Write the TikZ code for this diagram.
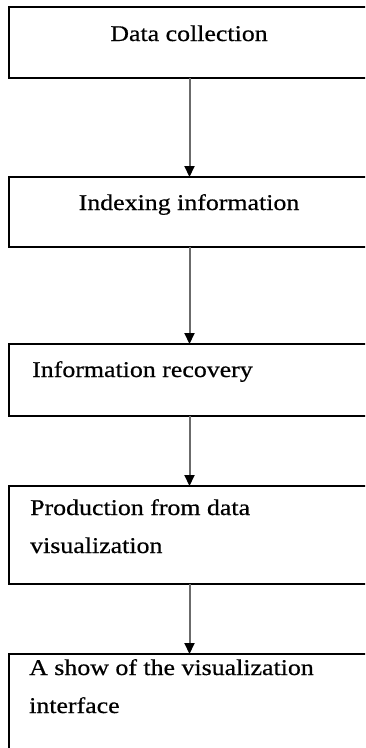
\documentclass[tikz,border=0pt]{standalone}
\usepackage{fontspec}
\setmainfont[FakeStretch=1.15,FakeBold=0.6]{Liberation Serif}
\usetikzlibrary{arrows.meta}
\begin{document}
\begin{tikzpicture}[x=1pt,y=-1pt,
  box/.style={draw=black,line width=2pt,inner sep=0pt,outer sep=0pt,
    minimum width=361pt,anchor=north west},
  lbl/.style={inner sep=0pt,font=\fontsize{22.5}{38}\selectfont},
  arr/.style={draw=black!58,line width=2pt,
    -{Triangle[length=11pt,width=10pt,color=black]}}]
\useasboundingbox (0,0) rectangle (365,748);
\clip (0,0) rectangle (365,748);
\node[box,minimum height=71pt] (b1) at (9,7) {};
\node[box,minimum height=70pt] (b2) at (9,177) {};
\node[box,minimum height=72pt] (b3) at (9,344) {};
\node[box,minimum height=98pt] (b4) at (9,486) {};
\node[box,minimum height=110pt] (b5) at (9,654) {};
\node[lbl,anchor=base] (t1) at (189,41) {Data collection};
\node[lbl,anchor=base] (t2) at (189,210) {Indexing information};
\node[lbl,anchor=base west] (t3) at (32,377) {Information recovery};
\node[lbl,anchor=base west,align=left] (t4) at (30,553) {Production from data\\visualization};
\node[lbl,anchor=base west,align=left] (t5) at (29,713) {A show of the visualization\\interface};
\draw[arr] (b1) -- (b2);
\draw[arr] (b2) -- (b3);
\draw[arr] (b3) -- (b4);
\draw[arr] (b4) -- (b5);
\end{tikzpicture}
\end{document}
